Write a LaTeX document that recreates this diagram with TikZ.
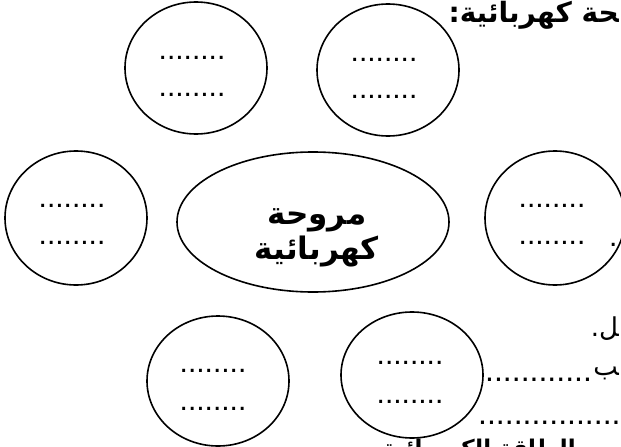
\documentclass[tikz,border=0pt]{standalone}
\usepackage{fontspec}
\usetikzlibrary{shapes.geometric}
\TeXXeTstate=1
\newfontfamily\arabicfont[Script=Arabic]{DejaVu Sans}
\newfontfamily\dotfont{Liberation Sans}
\tikzset{
  blob/.style={ellipse, draw, line width=1.6pt, inner sep=0pt},
  dotrow/.style={anchor=base, inner sep=0pt, font=\dotfont\fontsize{30}{30}\selectfont},
  sidedots/.style={anchor=base west, inner sep=0pt, font=\dotfont\fontsize{32}{32}\selectfont},
  artitle/.style={anchor=base east, inner sep=0pt, font=\arabicfont\bfseries\fontsize{28}{32}\selectfont},
  arbig/.style={anchor=base, inner sep=0pt, font=\arabicfont\bfseries\fontsize{31}{36}\selectfont},
  arplain/.style={anchor=base east, inner sep=0pt, font=\arabicfont\fontsize{26}{30}\selectfont},
}
\begin{document}
\begin{tikzpicture}[x=1pt,y=-1pt]
\useasboundingbox (0,0) rectangle (621,447);
\clip (0,0) rectangle (621,447);
% ellipses
\node[blob, minimum width=142pt, minimum height=132pt] (tl) at (196,68) {};
\node[blob, minimum width=142pt, minimum height=132pt] (tr) at (388,70) {};
\node[blob, minimum width=142pt, minimum height=134pt] (ml) at (76,218) {};
\node[blob, minimum width=272pt, minimum height=140pt] (mid) at (313,222) {};
\node[blob, minimum width=140pt, minimum height=134pt] (mr) at (555,218) {};
\node[blob, minimum width=142pt, minimum height=130pt] (bl) at (218,381) {};
\node[blob, minimum width=142pt, minimum height=126pt] (bm) at (412,375) {};
% dot rows
\node[dotrow] (tl1) at (192,59) {........};
\node[dotrow] (tl2) at (192,96) {........};
\node[dotrow] (tr1) at (384,61) {........};
\node[dotrow] (tr2) at (384,98) {........};
\node[dotrow] (ml1) at (72,207) {........};
\node[dotrow] (ml2) at (72,244) {........};
\node[dotrow] (mr1) at (552,207) {........};
\node[dotrow] (mr2) at (552,244) {........};
\node[dotrow] (bl1) at (213,372) {........};
\node[dotrow] (bl2) at (213,410) {........};
\node[dotrow] (bm1) at (410,364) {........};
\node[dotrow] (bm2) at (410,403) {........};
% centre label
\node[arbig] (lab1) at (317,224) {\beginR مروحة\endR};
\node[arbig] (lab2) at (317,259) {\beginR كهربائية\endR};
% partial texts at the right edge
\node[artitle] (title) at (619,22) {\beginR ^^^^200dحة كهربائية:\endR};
\node[dotrow, anchor=base west] (pt) at (609,246) {.};
\node[arplain] (lline) at (619,336) {\beginR ^^^^200dل.\endR};
\node[sidedots] (bline) at (485,381) {............};
\node[arplain] (bchar) at (619,375) {\beginR ^^^^200dب\endR};
\node[sidedots] (dline) at (478,424) {................};
\node[artitle, font=\arabicfont\bfseries\fontsize{23}{28}\selectfont] (foot) at (576,456) {\beginR الطاقة الكهربائية\endR};
\end{tikzpicture}
\end{document}
